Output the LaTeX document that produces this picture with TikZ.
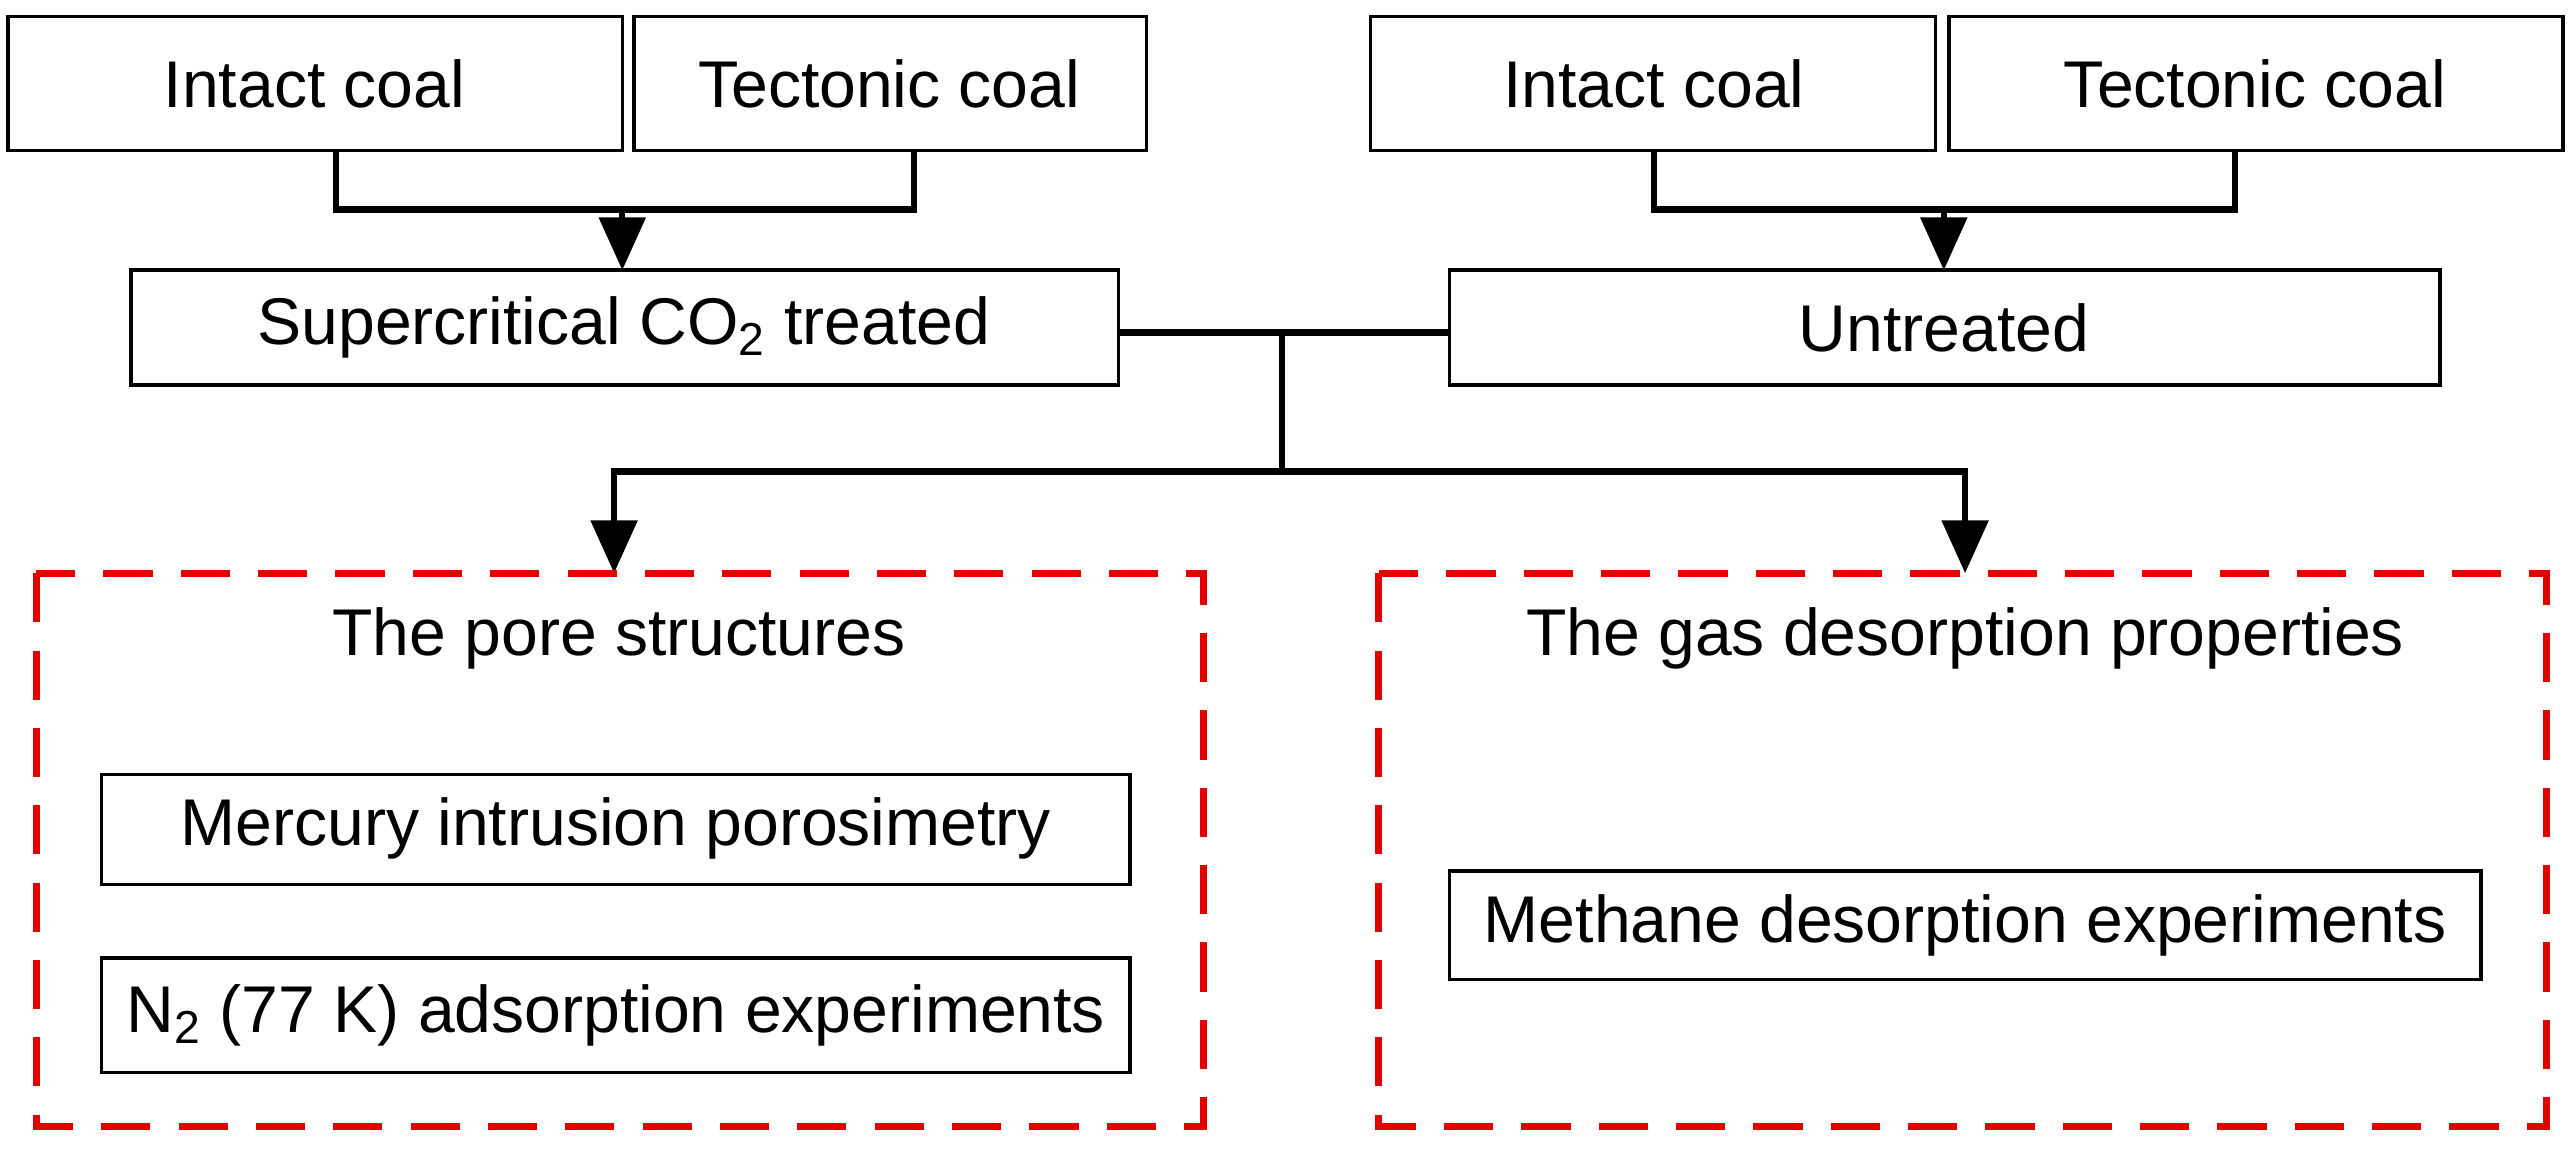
\documentclass[tikz,border=0pt]{standalone}
\usepackage{fontspec}
\setmainfont{Liberation Sans}
\usetikzlibrary{arrows.meta}
\begin{document}
\begin{tikzpicture}[x=0.016376cm,y=-0.016376cm,
  bx/.style={draw, line width=1pt},
  red/.style={draw=red!90!black, dashed, dash pattern=on 14pt off 8pt, line width=2pt},
  con/.style={line width=1.8pt},
  arr/.style={con, -{Triangle[length=15pt,width=13pt]}},
  lbl/.style={font=\fontsize{18.8}{22}\selectfont}]
\useasboundingbox (0,0) rectangle (1570,701.6);
% top boxes
\path[bx] (5,10) rectangle (380,92);
\node[lbl] (ia) at (192,51) {Intact coal};
\path[bx] (387,10) rectangle (700,92);
\node[lbl] (ta) at (543,51) {Tectonic coal};
\path[bx] (837,10) rectangle (1182,92);
\node[lbl] (ib) at (1010,51) {Intact coal};
\path[bx] (1190,10) rectangle (1565,92);
\node[lbl] (tb) at (1377,51) {Tectonic coal};
\coordinate (ia1) at (205,92); \coordinate (ta1) at (558,92);
\coordinate (ib1) at (1010,92); \coordinate (tb1) at (1365,92);
\draw[con] (ia1) -- (205,128) -- (558,128) -- (ta1);
\draw[con] (ib1) -- (1010,128) -- (1365,128) -- (tb1);
% treatment
\path[bx] (80,165) rectangle (683,235);
\node[lbl] (sc) at (381,200) {Supercritical CO\textsubscript{2} treated};
\path[bx] (885,165) rectangle (1490,235);
\node[lbl] (un) at (1187,200) {Untreated};
\coordinate (m1) at (380,128); \coordinate (m1b) at (380,165);
\coordinate (m2) at (1187,128); \coordinate (m2b) at (1187,165);
\draw[arr] (m1) -- (m1b);
\draw[arr] (m2) -- (m2b);
\coordinate (scr) at (683,203); \coordinate (unl) at (885,203);
\draw[con] (scr) -- (unl);
\coordinate (j) at (783,203); \coordinate (j2) at (783,288);
\draw[con] (j) -- (j2);
\draw[arr] (j2) -- (375,288) -- (375,350);
\draw[arr] (j2) -- (1200,288) -- (1200,350);
% red boxes
\draw[red] (22,350) rectangle (735,688);
\draw[red] (842,350) rectangle (1555,688);
\node[lbl] (ps) at (378,390) {The pore structures};
\node[lbl] (gd) at (1200,390) {The gas desorption properties};
\path[bx] (62,473) rectangle (690,540);
\node[lbl] (mi) at (376,506) {Mercury intrusion porosimetry};
\path[bx] (62,585) rectangle (690,655);
\node[lbl] (n2) at (376,620) {N\textsubscript{2} (77 K) adsorption experiments};
\path[bx] (885,532) rectangle (1515,598);
\node[lbl] (me) at (1200,565) {Methane desorption experiments};
\end{tikzpicture}
\end{document}
